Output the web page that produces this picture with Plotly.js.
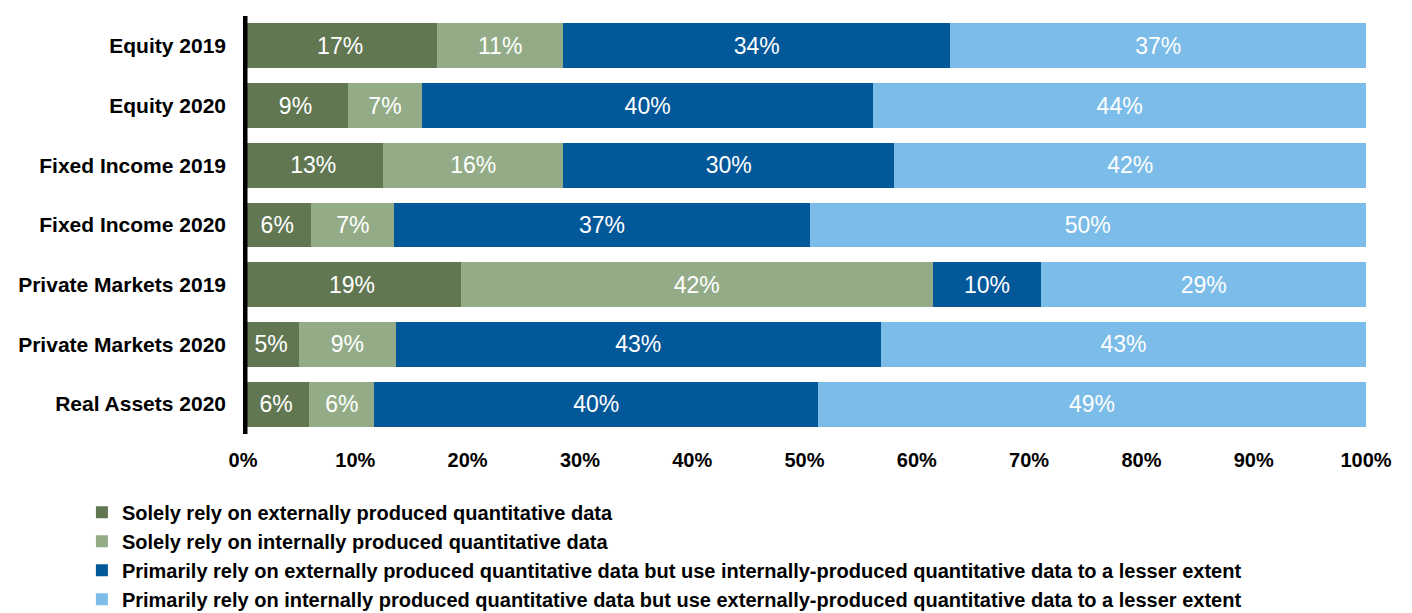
<!DOCTYPE html>
<html>
<head>
<meta charset="utf-8">
<script src="https://cdn.plot.ly/plotly-3.0.1.min.js"></script>
<style>html,body{margin:0;padding:0;background:#fff}#chart{width:1412px;height:613px}</style>
</head>
<body>
<div id="chart"></div>
<script>
const categories = ["Equity 2019","Equity 2020","Fixed Income 2019","Fixed Income 2020","Private Markets 2019","Private Markets 2020","Real Assets 2020"];
const seriesNames = [
  "Solely rely on externally produced quantitative data",
  "Solely rely on internally produced quantitative data",
  "Primarily rely on externally produced quantitative data but use internally-produced quantitative data to a lesser extent",
  "Primarily rely on internally produced quantitative data but use externally-produced quantitative data to a lesser extent"
];
// segment widths
const soleExternal   = [17.3, 9.35, 12.5, 6.1, 19.4, 5.0, 5.9];
const soleInternal   = [11.2, 6.6, 16.0, 7.4, 42.0, 8.6, 5.8];
const primExternal   = [34.5, 40.2, 29.5, 37.0, 9.7, 43.2, 39.5];
const primInternal   = [37.0, 43.9, 42.0, 49.6, 28.9, 43.2, 48.8];
// printed labels
const soleExternalLbl = [17, 9, 13, 6, 19, 5, 6];
const soleInternalLbl = [11, 7, 16, 7, 42, 9, 6];
const primExternalLbl = [34, 40, 30, 37, 10, 43, 40];
const primInternalLbl = [37, 44, 42, 50, 29, 43, 49];
const xTicks = [0,10,20,30,40,50,60,70,80,90,100];
const colors = ["#617752", "#93AC87", "#03589A", "#7BBCE8"];

const vals = [soleExternal, soleInternal, primExternal, primInternal];
const lbls = [soleExternalLbl, soleInternalLbl, primExternalLbl, primInternalLbl];
const font = "Arial, 'Liberation Sans', sans-serif";

const traces = vals.map((v, i) => ({
  type: 'bar',
  orientation: 'h',
  name: seriesNames[i],
  y: categories,
  x: v,
  text: lbls[i].map(l => l + '%'),
  textposition: 'inside',
  insidetextanchor: 'middle',
  constraintext: 'none',
  textangle: 0,
  textfont: {family: font, size: 23, color: '#ffffff'},
  marker: {color: colors[i], line: {width: 0}},
  hoverinfo: 'skip'
}));

const layout = {
  width: 1412, height: 613,
  margin: {l: 243, r: 46, t: 16, b: 179, autoexpand: false},
  paper_bgcolor: '#ffffff', plot_bgcolor: '#ffffff',
  barmode: 'stack',
  barnorm: 'percent',
  bargap: 0.25,
  font: {family: font, color: '#000000'},
  xaxis: {
    range: [0, 100],
    tickvals: xTicks,
    ticktext: xTicks.map(t => t + '%'),
    showgrid: false, zeroline: false, showline: false, ticks: '',
    ticklabelstandoff: 12,
    automargin: false,
    tickfont: {family: font, size: 20, color: '#000', weight: 'bold'}
  },
  yaxis: {
    autorange: 'reversed',
    showgrid: false, zeroline: false, showline: false, ticks: '',
    ticklabelstandoff: 16,
    automargin: false,
    tickfont: {family: font, size: 21, color: '#000', weight: 'bold'}
  },
  shapes: [{
    type: 'line', xref: 'x', yref: 'paper', x0: 0, x1: 0, y0: 0, y1: 1,
    line: {color: '#000000', width: 9}, layer: 'above'
  }],
  showlegend: true,
  legend: {
    orientation: 'v', traceorder: 'normal',
    xref: 'container', yref: 'container',
    x: 0.058, xanchor: 'left', y: 0.196, yanchor: 'top',
    font: {family: font, size: 20, color: '#000', weight: 'bold'},
    itemclick: false, itemdoubleclick: false,
    tracegroupgap: 0, bgcolor: 'rgba(0,0,0,0)'
  }
};

Plotly.newPlot('chart', traces, layout, {displayModeBar: false, staticPlot: true});
</script>
</body>
</html>
